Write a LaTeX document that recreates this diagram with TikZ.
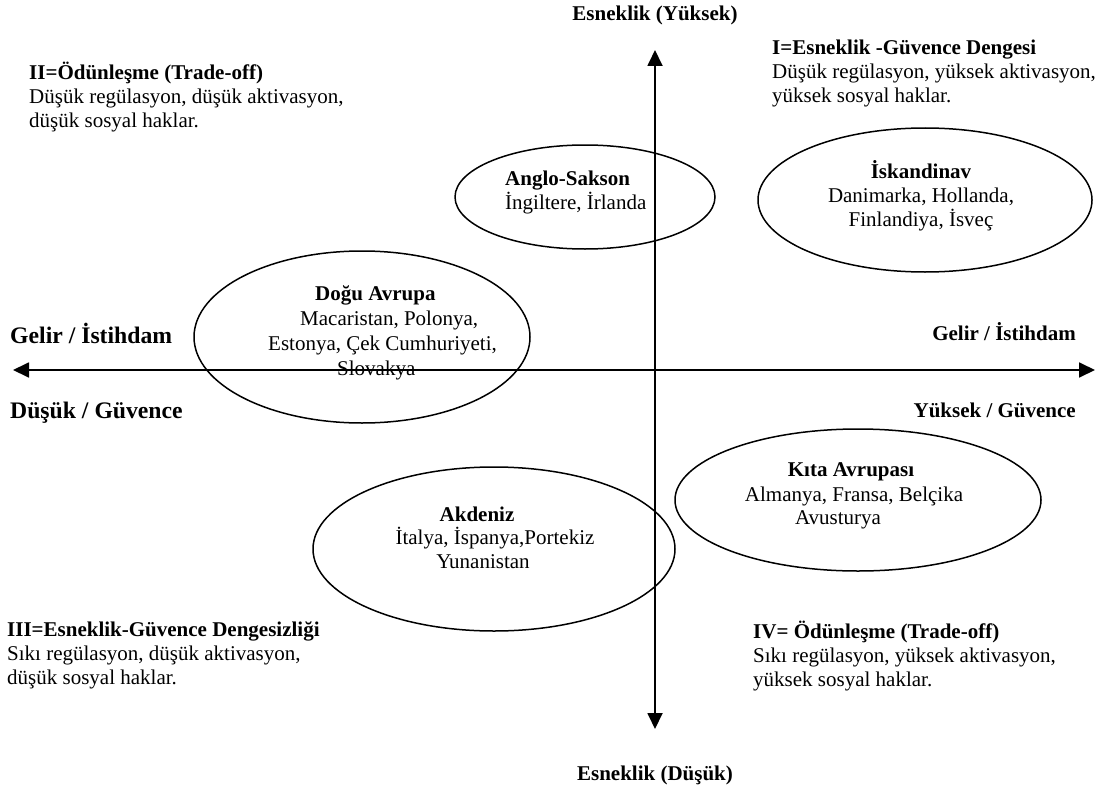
\documentclass[tikz,border=0pt]{standalone}
\usepackage{fontspec}
\setmainfont{Liberation Serif}
\usetikzlibrary{arrows.meta,shapes.geometric}
\begin{document}
\begin{tikzpicture}[x=1pt,y=-1pt,
  txt/.style={font=\fontsize{21}{24}\selectfont, inner sep=0pt},
  boldtxt/.style={font=\fontsize{21}{24}\selectfont\bfseries, inner sep=0pt},
  bigbold/.style={font=\fontsize{23.7}{27}\selectfont\bfseries, inner sep=0pt},
  axis/.style={line width=1.8pt, {Triangle[length=16pt,width=15pt]}-{Triangle[length=16pt,width=15pt]}},
  region/.style={draw, line width=1.5pt, ellipse, inner sep=0pt}]
\useasboundingbox (0,0) rectangle (1110,789);
% axes
\coordinate (L) at (13,370);
\coordinate (R) at (1095,370);
\coordinate (T) at (655,50);
\coordinate (B) at (655,729);
\draw[axis] (L) -- (R);
\draw[axis] (B) -- (T);
% axis labels
\node[boldtxt] (top) at (655,15) {Esneklik (Yüksek)};
\node[boldtxt] (bot) at (655,775) {Esneklik (Düşük)};
\node[bigbold, anchor=west] (gl) at (10,333) {Gelir / İstihdam};
\node[bigbold, anchor=west] (dg) at (10,413) {Düşük / Güvence};
\node[boldtxt, anchor=east] (gr) at (1076,332) {Gelir / İstihdam};
\node[boldtxt, anchor=east] (yg) at (1076,410) {Yüksek / Güvence};
% quadrant texts
\node[txt, anchor=north west, align=left] (q2) at (29,62) {\textbf{II=Ödünleşme (Trade-off)}\\Düşük regülasyon, düşük aktivasyon,\\düşük sosyal haklar.};
\node[txt, anchor=north west, align=left] (q1) at (772,40) {\textbf{I=Esneklik -Güvence Dengesi}\\Düşük regülasyon, yüksek aktivasyon,\\yüksek sosyal haklar.};
\node[txt, anchor=north west, align=left] (q3) at (7,621) {\textbf{III=Esneklik-Güvence Dengesizliği}\\Sıkı regülasyon, düşük aktivasyon,\\düşük sosyal haklar.};
\node[txt, anchor=north west, align=left] (q4) at (753,621) {\textbf{IV= Ödünleşme (Trade-off)}\\Sıkı regülasyon, yüksek aktivasyon,\\yüksek sosyal haklar.};
% ellipses
\node[region, minimum width=260pt, minimum height=104pt] (anglo) at (585,197) {};
\node[region, minimum width=334pt, minimum height=144pt] (isk) at (925,200) {};
\node[region, minimum width=336pt, minimum height=172pt] (dogu) at (362,337) {};
\node[region, minimum width=366pt, minimum height=142pt] (kita) at (858,500) {};
\node[region, minimum width=362pt, minimum height=164pt] (akd) at (494,549) {};
% ellipse texts
\node[txt, anchor=north west, align=left] (angloT) at (505,171) {\textbf{Anglo-Sakson}\\İngiltere, İrlanda};
\node[txt, align=center] (iskT) at (921,196) {\textbf{İskandinav}\\Danimarka, Hollanda,\\Finlandiya, İsveç};
\node[txt, anchor=west] (d1) at (315,295) {\textbf{Doğu Avrupa}};
\node[txt, anchor=west] (d2) at (300,320) {Macaristan, Polonya,};
\node[txt, anchor=west] (d3) at (268,345) {Estonya, Çek Cumhuriyeti,};
\node[txt, anchor=west] (d4) at (337,370) {Slovakya};
\node[boldtxt] (k1) at (851,472) {Kıta Avrupası};
\node[txt] (k2) at (854,496) {Almanya, Fransa, Belçika};
\node[txt] (k3) at (838,520) {Avusturya};
\node[boldtxt] (a1) at (477,514) {Akdeniz};
\node[txt] (a2) at (495,538) {İtalya, İspanya,Portekiz};
\node[txt] (a3) at (483,562) {Yunanistan};
\end{tikzpicture}
\end{document}
